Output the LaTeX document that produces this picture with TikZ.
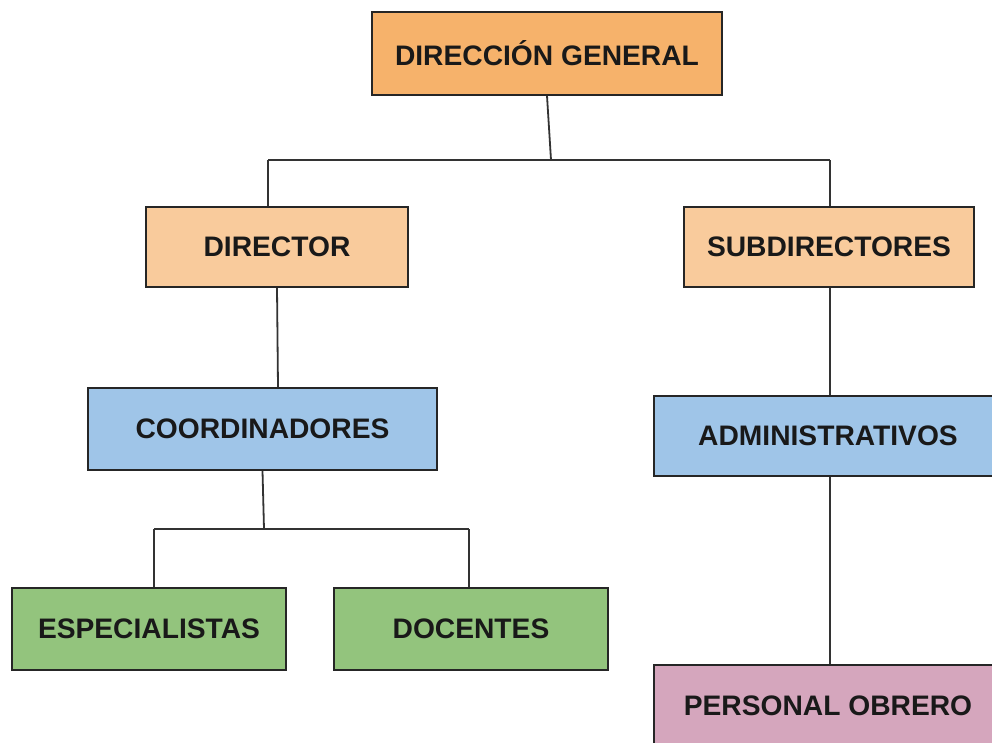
\documentclass[tikz,border=0pt]{standalone}
\usepackage{fontspec}
\setmainfont{Liberation Sans}
\usepackage{xcolor}
\usepackage{tikz}
\usetikzlibrary{calc}
\usetikzlibrary{positioning}
\definecolor{dgorange}{HTML}{F6B26B}
\definecolor{dirorange}{HTML}{F9CB9C}
\definecolor{coordblue}{HTML}{9FC5E8}
\definecolor{espgreen}{HTML}{93C47D}
\definecolor{obrpink}{HTML}{D5A6BD}
\tikzset{>=latex}
\tikzstyle{unit} = [rectangle, draw=black!85, line width=1.6pt, align=center, inner sep=0,
  text=black!90, font=\fontsize{28.2}{33}\selectfont\bfseries]
\tikzstyle{link} = [-, draw=black!80, line width=1.8pt]

\begin{document}
\begin{tikzpicture}[x=1pt, y=-1pt]
\useasboundingbox (0,0) rectangle (992,742);
\node [unit, fill=dgorange, minimum width=350, minimum height=83] (DG) at (547, 53.5) {DIRECCIÓN GENERAL};
\node [unit, fill=dirorange, minimum width=262, minimum height=80] (DIR) at (277, 247) {DIRECTOR};
\node [unit, fill=dirorange, minimum width=290, minimum height=80] (SUB) at (829, 247) {SUBDIRECTORES};
\node [unit, fill=coordblue, minimum width=349, minimum height=82] (COO) at (262.5, 429) {COORDINADORES};
\node [unit, fill=coordblue, minimum width=348, minimum height=80] (ADM) at (828, 436) {ADMINISTRATIVOS};
\node [unit, fill=espgreen, minimum width=274, minimum height=82] (ESP) at (149, 629) {ESPECIALISTAS};
\node [unit, fill=espgreen, minimum width=274, minimum height=82] (DOC) at (471, 629) {DOCENTES};
\node [unit, fill=obrpink, minimum width=348, minimum height=82] (OBR) at (828, 706) {PERSONAL OBRERO};
% buses
\coordinate (busA) at (551, 160);
\coordinate (busL) at (268, 160);
\coordinate (busR) at (830, 160);
\coordinate (busB) at (264, 529);
\coordinate (busE) at (154, 529);
\coordinate (busD) at (469, 529);
\draw [link] (DG.south) to (busA);
\draw [link] (busL) to (busR);
\draw [link] (busL) to (busL |- DIR.north);
\draw [link] (busR) to (busR |- SUB.north);
\draw [link] (DIR.south) to (COO.north -| 278,0);
\draw [link] (SUB.south -| busR) to (busR |- ADM.north);
\draw [link] (COO.south) to (busB);
\draw [link] (busE) to (busD);
\draw [link] (busE) to (busE |- ESP.north);
\draw [link] (busD) to (busD |- DOC.north);
\draw [link] (ADM.south -| busR) to (busR |- OBR.north);
\end{tikzpicture}
\end{document}
